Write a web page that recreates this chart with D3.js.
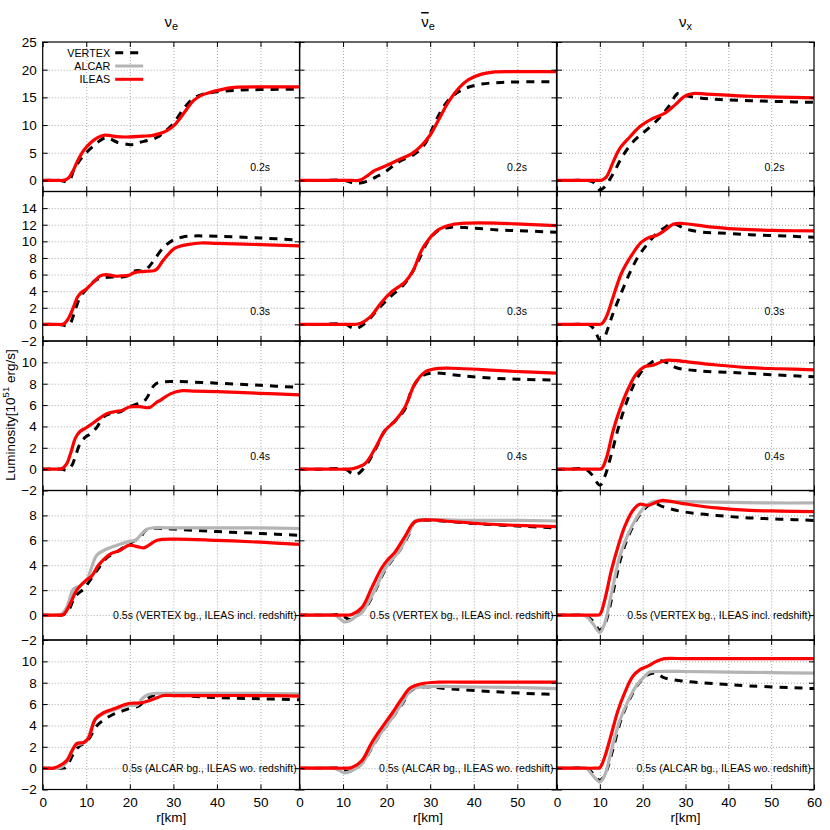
<!DOCTYPE html>
<html><head><meta charset="utf-8">
<script src="https://cdn.jsdelivr.net/npm/d3@7"></script>
<style>
html,body{margin:0;padding:0;background:#fff;}
svg{display:block;font-family:"Liberation Sans",Arial,Helvetica,sans-serif;}
</style></head>
<body><svg id="c" width="830" height="830"></svg>
<script>
// ---------------- data (r [km], luminosity [1e51 erg/s]) ----------------
const colTitles = ["ν", "ν", "ν"];
const colBars = [false, true, false];
const colSubs = ["e", "e", "x"];
const rowLabels = ["0.2s", "0.3s", "0.4s",
  "0.5s (VERTEX bg., ILEAS incl. redshift)",
  "0.5s (ALCAR bg., ILEAS wo. redshift)"];
const yDomains = [[-2, 25], [-2, 16], [-2, 12], [-2, 10], [-2, 12]];
const yTicks = [[0, 5, 10, 15, 20, 25], [-2, 0, 2, 4, 6, 8, 10, 12, 14], [-2, 0, 2, 4, 6, 8, 10], [-2, 0, 2, 4, 6, 8], [-2, 0, 2, 4, 6, 8, 10]];
const xDomains = [[0, 59], [0, 59], [0, 60]];
const xTicks = [[0, 10, 20, 30, 40, 50], [0, 10, 20, 30, 40, 50], [0, 10, 20, 30, 40, 50, 60]];
const legendNames = ["VERTEX", "ALCAR", "ILEAS"];

// nu_e
const nue02_vertex = [[0,0],[4,0],[5.5,-0.2],[6.3,0.2],[7.1,1.8],[8.3,3.4],[9.4,4.5],[10.5,5.4],[11.8,6.3],[13,7.1],[14.4,7.7],[15.5,7.5],[17.1,6.9],[19.7,6.5],[21,6.5],[22.4,6.9],[24,7.2],[26.3,7.8],[28,8.8],[29.7,10.0],[31.6,12.1],[33,13.6],[34.6,14.8],[36.5,15.5],[40,16.0],[45,16.3],[50,16.4],[59,16.5]];
const nue02_ileas = [[0,0],[3,0],[5,0.05],[6,0.5],[7,1.8],[8,3.5],[9.4,5.4],[11,6.8],[12.5,7.7],[14,8.15],[15.5,8.1],[17,7.9],[20,7.85],[23,8.0],[25,8.1],[27,8.5],[28.5,9.0],[30,9.8],[31.5,11.2],[33,12.8],[34.6,14.4],[36.5,15.4],[38.5,15.9],[40.5,16.3],[43,16.7],[45,16.85],[50,16.9],[59,16.9]];
const nue03_vertex = [[0,0],[4,0],[5.5,-0.15],[6.3,0.1],[7.2,1.3],[8.6,3.3],[10,4.2],[12.1,5.3],[14,5.6],[16,5.7],[18.2,5.7],[19.5,5.85],[20.9,6.4],[22,6.5],[23.2,6.4],[24.5,7.0],[25.5,7.7],[27.8,9.3],[30.1,10.2],[32,10.5],[34.6,10.65],[40,10.6],[50,10.4],[59,10.15]];
const nue03_ileas = [[0,0],[3,0],[4.8,0.05],[6,0.8],[7,2.0],[8,3.3],[9,3.9],[10.1,4.3],[11.5,5.0],[13.2,5.85],[14.5,6.0],[16.7,5.8],[18,5.85],[19.7,5.9],[20.9,6.2],[22.5,6.35],[24,6.4],[25.5,6.45],[26.3,6.7],[27.5,7.6],[28.6,8.3],[30.1,9.1],[31.5,9.4],[33.2,9.6],[36.3,9.8],[40,9.75],[50,9.6],[59,9.45]];
const nue04_vertex = [[0,0],[4.5,0],[5.5,-0.1],[6.7,0.35],[7.5,1.2],[8.6,2.4],[9.8,3.0],[10.9,3.3],[12.4,3.9],[14,4.9],[15.5,5.2],[16.7,5.3],[18,5.4],[19.7,5.8],[21.7,6.1],[22.4,6.2],[23.6,6.5],[25.5,7.8],[26.5,8.1],[30.1,8.2],[40,8.05],[50,7.85],[59,7.65]];
const nue04_ileas = [[0,0],[3,0],[4.4,0.05],[5.5,0.5],[6.5,1.6],[7.5,2.9],[8.5,3.5],[10.1,3.9],[11.5,4.3],[13.2,4.8],[14.7,5.2],[16.7,5.4],[18.2,5.5],[19.7,5.8],[21,5.85],[22.4,5.85],[24,5.75],[24.7,5.8],[26.3,6.3],[27,6.45],[29.3,7.05],[32,7.35],[35,7.3],[40,7.25],[50,7.1],[59,6.95]];
const nue05v_vertex = [[0,0],[4.5,0],[5.5,0.2],[6,0.4],[7.5,1.5],[9.4,2.1],[10.5,2.6],[12.4,3.55],[14.7,4.6],[16.7,5.0],[19.7,5.7],[22.4,6.25],[23.6,6.8],[25.5,6.95],[30,6.9],[40,6.7],[50,6.55],[59,6.4]];
const nue05v_alcar = [[0,0],[3,0],[4.4,0.1],[5.5,0.6],[7.1,2.1],[8.6,2.35],[10.1,2.8],[11.2,3.8],[12.4,4.8],[14.7,5.3],[17.1,5.6],[19.7,5.9],[21.3,6.0],[22.4,6.4],[24,6.9],[25.5,7.0],[30,7.0],[40,7.0],[50,7.0],[59,6.95]];
const nue05v_ileas = [[0,0],[3.5,0],[4.8,0.05],[6.3,0.9],[7.8,2.0],[9.8,2.75],[11.3,3.15],[12.8,4.0],[15.5,4.9],[17.8,5.2],[19.7,5.6],[21.7,5.5],[23.2,5.4],[24.3,5.6],[26.3,6.0],[30.1,6.1],[40,6.0],[50,5.85],[59,5.67]];
const nue05a_vertex = [[0,0],[4.5,0],[5.2,0.05],[6,0.5],[7,1.3],[8.5,2.1],[10,2.4],[11,3.0],[12.5,4.0],[14,4.5],[16,5.0],[18,5.3],[20,5.6],[22,5.8],[24,6.5],[26,6.9],[30,6.85],[40,6.6],[50,6.5],[59,6.4]];
const nue05a_alcar = [[0,0],[3.5,0],[4.5,0.15],[5.5,0.55],[7.5,2.1],[9,2.3],[10.1,2.6],[12.1,4.6],[14,5.1],[16.7,5.5],[19.7,5.9],[21.7,5.9],[22.8,6.5],[24.3,6.9],[26,7.0],[30,7.0],[40,7.0],[50,7.0],[59,6.95]];
const nue05a_ileas = [[0,0],[2.5,0],[4,0.25],[5.5,0.7],[6.7,1.6],[7.8,2.3],[9.4,2.4],[10.5,2.8],[12.1,4.6],[14,5.2],[16.7,5.6],[19.7,6.05],[22.4,6.1],[24.7,6.35],[27.8,6.8],[30,6.8],[40,6.8],[50,6.8],[59,6.75]];

// anti nu_e
const nueb02_vertex = [[0,0],[5,0],[10.5,0],[12,-0.4],[13.5,-0.5],[15.8,-0.1],[17.5,0.6],[19.6,1.5],[22.7,3.3],[26.5,4.8],[28.8,6.6],[30.7,9.7],[32.6,12.7],[34.9,15.1],[38,16.6],[41.8,17.4],[46.4,17.7],[52,17.8],[59,17.8]];
const nueb02_ileas = [[0,0],[6,0],[12,0],[13.9,0.05],[15.5,0.8],[17.3,1.8],[20,2.7],[22.7,3.7],[25.7,4.8],[28,6.3],[30,8.2],[31.9,10.9],[34.2,14.2],[36.5,16.6],[38.8,18.2],[41.8,19.2],[44.9,19.6],[50,19.65],[59,19.65]];
const nueb03_vertex = [[0,0],[5,0],[10.5,0],[12,-0.4],[13.1,-0.5],[15.4,0.3],[18.5,2.1],[20.8,3.3],[23.8,4.7],[25.7,6.1],[27.7,8.1],[29.6,10.1],[31.9,11.3],[34.9,11.7],[39.5,11.6],[46.4,11.35],[52,11.25],[59,11.1]];
const nueb03_ileas = [[0,0],[6,0],[12,0],[13.5,0.05],[15,0.4],[16.6,1.1],[18.9,2.7],[21.1,3.9],[24.2,5.1],[26.1,6.5],[28,8.9],[29.6,10.2],[31.9,11.4],[34.9,12.0],[38.8,12.2],[45,12.2],[52,12.05],[59,11.9]];
const nueb04_vertex = [[0,0],[5,0],[10.5,0],[12,-0.4],[13.1,-0.5],[15,0.2],[17.3,1.75],[19.6,3.6],[21.9,4.5],[24.2,5.6],[25.7,7.35],[27.7,8.6],[30.3,9.0],[37.2,8.75],[44.9,8.5],[52,8.4],[59,8.35]];
const nueb04_ileas = [[0,0],[5.5,0],[11,0],[12.3,0.05],[15,0.5],[17.3,1.9],[19.6,3.6],[21.9,4.5],[24.2,5.8],[26.5,8.0],[28.8,9.1],[31.1,9.4],[34.9,9.45],[45,9.25],[52,9.1],[59,9.0]];
const nueb05v_vertex = [[0,0],[5,0],[9.5,0],[11.5,-0.35],[13,-0.1],[15,0.5],[17.3,1.9],[19.6,3.6],[21,4.3],[23,5.2],[25,6.4],[26.5,7.5],[30,7.6],[40,7.35],[50,7.15],[59,7.0]];
const nueb05v_alcar = [[0,0],[4,0],[8,0],[9,-0.2],[10.3,-0.55],[11.5,-0.45],[13,-0.1],[14.3,0.2],[17.3,2.0],[19.6,3.7],[21.1,4.4],[22.7,5.05],[25,6.5],[26.5,7.55],[29.6,7.65],[40,7.6],[50,7.6],[59,7.55]];
const nueb05v_ileas = [[0,0],[5.5,0],[11,0],[12,0.05],[14.3,0.6],[16.6,2.2],[18.9,3.8],[20.4,4.5],[21.9,5.05],[24.2,6.3],[26.5,7.5],[29.6,7.65],[33.4,7.55],[41,7.35],[50,7.2],[59,7.1]];
const nueb05a_vertex = [[0,0],[4.5,0],[9,0],[11,-0.3],[12.5,-0.15],[14.5,0.5],[16.6,1.9],[18.9,3.4],[21.1,4.6],[23.4,5.9],[25.7,7.3],[28,7.6],[35,7.4],[45,7.15],[55,6.95],[59,6.9]];
const nueb05a_alcar = [[0,0],[4,0],[8,0],[9,-0.2],[10.4,-0.45],[12,-0.25],[14.3,0.4],[16.6,1.95],[18.9,3.4],[21.1,4.6],[23.4,6.0],[25.7,7.35],[28,7.6],[40,7.6],[50,7.55],[59,7.45]];
const nueb05a_ileas = [[0,0],[5.5,0],[11,0],[12,0.05],[14.3,0.7],[16.6,2.4],[18.9,3.8],[21.1,5.05],[23.4,6.45],[25.4,7.5],[28,7.9],[31.9,8.05],[40,8.05],[50,8.05],[59,8.05]];

// nu_x
const nux02_vertex = [[0,0],[3.5,0],[7,0],[8.4,-0.3],[10,-1.7],[11.1,-1.2],[13.1,1.2],[15.4,4.5],[18.1,7.25],[20.8,9.05],[24,11.35],[26.3,13.6],[28.2,15.7],[29.4,15.4],[33.3,14.9],[38,14.6],[45,14.4],[52,14.25],[60,14.1]];
const nux02_ileas = [[0,0],[4.5,0],[9,0],[10.4,0.05],[11.5,0.6],[13.1,3.3],[14.6,5.7],[17,7.85],[19.3,9.7],[22.4,11.2],[25.1,12.1],[27.5,13.6],[29.8,15.2],[31.8,15.7],[34.9,15.6],[45,15.2],[52,15.05],[60,14.9]];
const nux03_vertex = [[0,0],[3.5,0],[7,0],[8,-0.2],[9,-0.9],[10,-1.9],[11,-1.6],[12,-0.3],[13,1.2],[15,3.8],[17,6.2],[19,8.2],[21,9.6],[23,10.8],[25,11.6],[27,12.15],[30,11.5],[34,11.1],[38,11.0],[45,10.8],[55,10.6],[60,10.5]];
const nux03_ileas = [[0,0],[4.5,0],[9,0],[10.4,0.05],[11.5,0.9],[13.1,3.3],[15,6.1],[17.4,8.3],[19.7,9.9],[21.6,10.5],[23.2,10.7],[25.1,11.3],[27.1,12.05],[29.4,12.15],[35.6,11.75],[45,11.4],[52,11.3],[60,11.25]];
const nux04_vertex = [[0,0],[3,0],[6.5,0],[8,-0.45],[10,-1.5],[11.1,-0.75],[12.7,1.4],[14.6,4.25],[17,7.05],[19.3,8.9],[21.6,9.85],[23.2,10.2],[25.5,10.0],[27.9,9.5],[33.3,9.2],[41.1,9.05],[50,8.85],[60,8.65]];
const nux04_ileas = [[0,0],[4.5,0],[9,0],[10.4,0.05],[11.5,1.0],[13.1,3.6],[14.6,5.5],[16.6,7.5],[18.5,8.9],[20.5,9.6],[22,9.7],[23.2,9.85],[25.5,10.2],[29.4,10.1],[37.2,9.75],[45,9.5],[52,9.4],[60,9.3]];
const nux05v_vertex = [[0,0],[3,0],[6.5,0],[8.4,-0.5],[10,-1.2],[11.3,-0.6],[13,1.7],[15,4.7],[17,6.6],[19,7.9],[21,8.7],[22.5,9.0],[24.7,8.7],[29.4,8.3],[37.2,8.0],[45,7.8],[52,7.7],[60,7.6]];
const nux05v_alcar = [[0,0],[3,0],[6,0],[7,-0.15],[8.4,-0.7],[10,-1.4],[11.1,-0.7],[12.7,1.7],[14.6,4.65],[16.6,6.5],[18.5,7.75],[20.5,8.7],[22.4,9.1],[24.7,9.1],[30,9.1],[40,9.05],[50,9.0],[60,9.0]];
const nux05v_ileas = [[0,0],[4.5,0],[9,0],[10,0.05],[11.1,1.15],[12.7,3.6],[14.2,5.45],[15.8,7.1],[17.7,8.4],[19.3,8.9],[21.2,8.8],[22.8,9.0],[24.4,9.2],[29.4,8.95],[37.2,8.6],[45,8.4],[52,8.35],[60,8.3]];
const nux05a_vertex = [[0,0],[3.5,0],[7,0],[8.4,-0.5],[10,-1.15],[11.3,-0.5],[13,1.7],[15,4.6],[17,6.5],[19,7.9],[21,8.7],[23,8.9],[25.1,8.45],[29.4,8.15],[37.2,7.9],[45,7.7],[57,7.5],[60,7.45]];
const nux05a_alcar = [[0,0],[3,0],[6.5,0],[7,-0.05],[8.4,-0.7],[10,-1.3],[11.1,-0.7],[12.7,1.65],[14.6,4.4],[16.6,6.3],[18.5,7.7],[20.5,8.6],[21.6,9.0],[23.2,9.05],[30,9.05],[40,9.0],[50,8.95],[60,8.9]];
const nux05a_ileas = [[0,0],[4.5,0],[9,0],[10,0.05],[11.1,1.0],[12.7,3.2],[14.2,5.35],[15.8,7.05],[17.7,8.6],[19.3,9.2],[21.2,9.55],[23.2,10.0],[25.1,10.25],[30,10.25],[40,10.25],[50,10.25],[60,10.25]];

// panel table: [row][col] -> {vertex, alcar, ileas}
const panelData = [
  [{v: nue02_vertex, i: nue02_ileas}, {v: nueb02_vertex, i: nueb02_ileas}, {v: nux02_vertex, i: nux02_ileas}],
  [{v: nue03_vertex, i: nue03_ileas}, {v: nueb03_vertex, i: nueb03_ileas}, {v: nux03_vertex, i: nux03_ileas}],
  [{v: nue04_vertex, i: nue04_ileas}, {v: nueb04_vertex, i: nueb04_ileas}, {v: nux04_vertex, i: nux04_ileas}],
  [{v: nue05v_vertex, a: nue05v_alcar, i: nue05v_ileas}, {v: nueb05v_vertex, a: nueb05v_alcar, i: nueb05v_ileas}, {v: nux05v_vertex, a: nux05v_alcar, i: nux05v_ileas}],
  [{v: nue05a_vertex, a: nue05a_alcar, i: nue05a_ileas}, {v: nueb05a_vertex, a: nueb05a_alcar, i: nueb05a_ileas}, {v: nux05a_vertex, a: nux05a_alcar, i: nux05a_ileas}]
];

// ---------------- layout ----------------
const colX = [42.7, 299.5, 557];
const colW = 257;
const rowY = [42, 191.5, 341, 490.5, 640];
const rowH = 149.5;
const RED = "#ff0000", GRAY = "#b4b4b4", BLACK = "#000";

const svg = d3.select("#c");
const defs = svg.append("defs");

for (let r = 0; r < 5; r++) {
  for (let c = 0; c < 3; c++) {
    const x = d3.scaleLinear().domain(xDomains[c]).range([0, colW]);
    const y = d3.scaleLinear().domain(yDomains[r]).range([rowH, 0]);
    const g = svg.append("g").attr("transform", `translate(${colX[c]},${rowY[r]})`);
    const cid = `clip${r}${c}`;
    defs.append("clipPath").attr("id", cid).append("rect").attr("width", colW).attr("height", rowH);

    // grid
    const gx = xTicks[c].filter(v => v > xDomains[c][0] && v < xDomains[c][1]);
    const gy = yTicks[r].filter(v => v > yDomains[r][0] && v < yDomains[r][1]);
    const grid = g.append("g").attr("class", "grid");
    grid.append("g").call(d3.axisBottom(x).tickValues(gx).tickSize(rowH).tickFormat(""));
    grid.append("g").call(d3.axisLeft(y).tickValues(gy).tickSize(-colW).tickFormat(""));
    grid.selectAll(".domain").remove();
    grid.selectAll("line").attr("stroke", "#a8a8a8").attr("stroke-width", 1).attr("stroke-dasharray", "1,2");

    // curves
    const line = d3.line().x(d => x(d[0])).y(d => y(d[1])).curve(d3.curveCatmullRom.alpha(0.5));
    const pd = panelData[r][c];
    const cg = g.append("g").attr("clip-path", `url(#${cid})`);
    cg.append("path").datum(pd.v).attr("d", line).attr("fill", "none")
      .attr("stroke", BLACK).attr("stroke-width", 3).attr("stroke-dasharray", "8,7");
    if (pd.a) cg.append("path").datum(pd.a).attr("d", line).attr("fill", "none")
      .attr("stroke", GRAY).attr("stroke-width", 3.2);
    cg.append("path").datum(pd.i).attr("d", line).attr("fill", "none")
      .attr("stroke", RED).attr("stroke-width", 3.2);

    // axes (inward ticks on all sides)
    const tl = 5;
    const axL = g.append("g").call(d3.axisLeft(y).tickValues(yTicks[r]).tickSizeInner(-tl).tickSizeOuter(0).tickPadding(6)
      .tickFormat(c === 0 ? d3.format("d") : ""));
    const axR = g.append("g").attr("transform", `translate(${colW},0)`)
      .call(d3.axisRight(y).tickValues(yTicks[r]).tickSizeInner(-tl).tickSizeOuter(0).tickFormat(""));
    const axT = g.append("g").call(d3.axisTop(x).tickValues(xTicks[c]).tickSizeInner(-tl).tickSizeOuter(0).tickFormat(""));
    const axB = g.append("g").attr("transform", `translate(0,${rowH})`)
      .call(d3.axisBottom(x).tickValues(xTicks[c]).tickSizeInner(-tl).tickSizeOuter(0).tickPadding(8)
        .tickFormat(r === 4 ? d3.format("d") : ""));
    [axL, axR, axT, axB].forEach(a => {
      a.select(".domain").remove();
      a.selectAll("line").attr("stroke", "#000").attr("stroke-width", 1);
      a.selectAll("text").attr("font-size", 13.5).attr("fill", "#000")
        .attr("font-family", '"Liberation Sans", Arial, sans-serif');
    });

    // border
    g.append("rect").attr("width", colW).attr("height", rowH)
      .attr("fill", "none").attr("stroke", "#000").attr("stroke-width", 1.2);

    // time label
    if (r < 3) {
      g.append("text").attr("x", colW - 39.5).attr("y", y(0) - 9).attr("text-anchor", "middle")
        .attr("font-size", 10.5).text(rowLabels[r]);
    } else {
      g.append("text").attr("x", colW - 3).attr("y", y(0) + 4).attr("text-anchor", "end")
        .attr("font-size", 10.5).text(rowLabels[r]);
    }
  }
}

// column titles
for (let c = 0; c < 3; c++) {
  const cx = colX[c] + colW / 2;
  const t = svg.append("text").attr("x", cx).attr("y", 27).attr("text-anchor", "middle").attr("font-size", 15);
  const nu = t.append("tspan").text(colTitles[c]);
  if (colBars[c]) nu.style("text-decoration", "overline");
  t.append("tspan").attr("font-size", 11).attr("dy", 3).text(colSubs[c]);
  svg.append("text").attr("x", cx).attr("y", 822).attr("text-anchor", "middle").attr("font-size", 13.5).text("r[km]");
}

// y label
const yl = svg.append("text").attr("transform", "translate(15,415) rotate(-90)").attr("text-anchor", "middle").attr("font-size", 13.5);
yl.append("tspan").text("Luminosity[10");
yl.append("tspan").attr("font-size", 9.5).attr("dy", -6).text("51");
yl.append("tspan").attr("dy", 6).text(" erg/s]");

// legend
const lg = svg.append("g").attr("transform", `translate(${colX[0]},${rowY[0]})`);
const legY = [10.7, 24, 37.3];
const legStyle = [{s: BLACK, d: "8,7"}, {s: GRAY, d: null}, {s: RED, d: null}];
legendNames.forEach((n, k) => {
  lg.append("text").attr("x", 67.5).attr("y", legY[k] + 3.8).attr("text-anchor", "end").attr("font-size", 10.8).text(n);
  const l = lg.append("line").attr("x1", 72.5).attr("x2", 100.5).attr("y1", legY[k]).attr("y2", legY[k])
    .attr("stroke", legStyle[k].s).attr("stroke-width", 3);
  if (legStyle[k].d) l.attr("stroke-dasharray", legStyle[k].d);
});
</script>
</body></html>
